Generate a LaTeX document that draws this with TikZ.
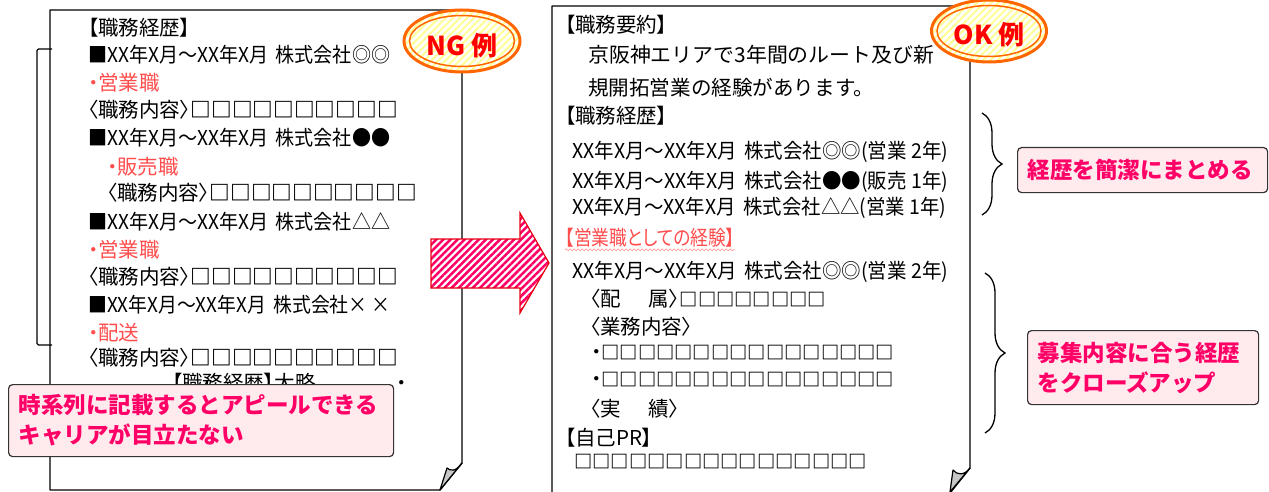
\documentclass[tikz,border=0pt]{standalone}
\usepackage{fontspec}
\setmainfont{Noto Sans CJK JP}
\newfontfamily\jpp{Noto Sans CJK JP}[RawFeature=+palt]
\usetikzlibrary{patterns.meta,decorations.pathreplacing,decorations.pathmorphing}
\definecolor{redtext}{RGB}{255,77,77}
\definecolor{pinktext}{RGB}{255,0,102}
\definecolor{callfill}{RGB}{255,234,238}
\definecolor{ringorange}{RGB}{255,102,0}
\definecolor{paleyellow}{RGB}{255,255,150}
\definecolor{arrowpink}{RGB}{255,0,102}
\definecolor{arrowred}{RGB}{230,0,18}
\newcommand\bxl[1]{{\fontsize{20.7}{22}\selectfont\bfseries #1}}
\newcommand\bxr[1]{{\fontsize{18.3}{20}\selectfont\bfseries #1}}
\newcommand\fitw[2]{\resizebox{#1}{\height}{#2}}
\tikzset{
  tx/.style={anchor=west, inner sep=0pt, font=\fontsize{20.5}{24}\selectfont},
  rt/.style={tx, text=redtext},
  callout/.style={draw=black!80, line width=1.2pt, fill=callfill, rounded corners=4pt,
     anchor=north west, inner xsep=10pt, inner ysep=0pt, align=left,
     font=\fontsize{22.5}{30}\selectfont\bfseries, text=pinktext},
  doc/.style={draw=black, line width=1.4pt, fill=white, line join=round},
  fold/.style={draw=black, line width=1.2pt, fill=black!22, line join=round},
  ringfill/.style={pattern={Lines[angle=45,distance=5pt,line width=2pt]}, pattern color=paleyellow},
  ringout/.style={draw=ringorange, line width=3pt},
  ringin/.style={draw=ringorange, line width=1.5pt},
  ringtext/.style={font=\fontsize{26}{26}\selectfont\bfseries, text=red, inner sep=0pt},
  bigarrow/.style={draw=arrowred, line width=1.2pt, line join=miter,
     pattern={Lines[angle=45,distance=5pt,line width=2.5pt]}, pattern color=arrowpink},
  bracesty/.style={draw=black, line width=1.3pt, decorate, decoration={brace, amplitude=20pt}},
}
\begin{document}
\begin{tikzpicture}[x=1pt, y=-1pt]
\useasboundingbox (0,0) rectangle (1269,492);
\fill[white] (0,0) rectangle (1269,492);

% ---------------- left document ----------------
\draw[doc] (50,10) -- (462,10) -- (462,463) -- (440,490) -- (50,490) -- cycle;
\draw[fold] (462,463) .. controls (456,472) and (450,471) .. (447,468) -- (440,490) -- cycle;
\draw[line width=1.3pt, rounded corners=1.5pt] (52,49) -- (37,49) -- (37,345) -- (52,345);

\node[tx] (l1) at (88,28) {\jpp 【職務経歴】};
\node[tx] (l2) at (88,55) {\fitw{302pt}{■XX年X月〜XX年X月\hspace{8pt}株式会社◎◎}};
\node[rt] (l3) at (88,83) {\jpp ・営業職};
\node[tx] (l4) at (88,110) {\jpp 〈職務内容〉\bxl{□□□□□□□□□□}};
\node[tx] (l5) at (88,138) {\fitw{302pt}{■XX年X月〜XX年X月\hspace{8pt}株式会社●●}};
\node[rt] (l6) at (107,167) {\jpp ・販売職};
\node[tx] (l7) at (107,193) {\jpp 〈職務内容〉\bxl{□□□□□□□□□□}};
\node[tx] (l8) at (88,222) {\fitw{302pt}{■XX年X月〜XX年X月\hspace{8pt}株式会社△△}};
\node[rt] (l9) at (88,250) {\jpp ・営業職};
\node[tx] (l10) at (88,277) {\jpp 〈職務内容〉\bxl{□□□□□□□□□□}};
\node[tx] (l11) at (88,305) {\fitw{302pt}{■XX年X月〜XX年X月\hspace{8pt}株式会社×\hspace{4pt}×}};
\node[rt] (l12) at (88,333) {\jpp ・配送};
\node[tx] (l13) at (88,358) {\jpp 〈職務内容〉\bxl{□□□□□□□□□□}};
\node[tx] (l14) at (172,383) {\jpp 【職務経歴】大略};
\node[tx] (l15) at (396,386) {\jpp ・};

\node[callout, minimum width=385pt, minimum height=72pt, text width=365pt] (c1) at (8,384)
  {時系列に記載するとアピールできる\\キャリアが目立たない};

% NG ring
\fill[white] (462,41) ellipse [x radius=58, y radius=31];
\fill[ringfill] (462,41) ellipse [x radius=58, y radius=31];
\draw[ringout] (462,41) ellipse [x radius=58, y radius=31];
\draw[ringin] (462,41) ellipse [x radius=52.5, y radius=25.5];
\node[ringtext] (ng) at (462,46) {NG 例};

% ---------------- arrow ----------------
\fill[white] (431,239) -- (520,239) -- (520,213) -- (549,263) -- (520,313) -- (520,288) -- (431,288) -- cycle;
\draw[bigarrow] (431,239) -- (520,239) -- (520,213) -- (549,263) -- (520,313) -- (520,288) -- (431,288) -- cycle;

% ---------------- right document ----------------
\draw[doc] (552,6) -- (970,6) -- (970,468) -- (950,493) -- (552,493) -- cycle;
\draw[fold] (970,468) .. controls (964,476) and (957,475) .. (953,470) -- (950,492) -- cycle;

\node[tx] (r1) at (565,25) {\jpp 【職務要約】};
\node[tx] (r2) at (588,55) {\fitw{346pt}{京阪神エリアで3年間のルート及び新}};
\node[tx] (r3) at (588,88) {\fitw{286pt}{規開拓営業の経験があります。}};
\node[tx] (r4) at (565,116) {\jpp 【職務経歴】};
\node[tx] (r5) at (572,152) {\fitw{376pt}{XX年X月〜XX年X月\hspace{8pt}株式会社◎◎(営業 2年)}};
\node[tx] (r6) at (572,182) {\fitw{376pt}{XX年X月〜XX年X月\hspace{8pt}株式会社●●(販売 1年)}};
\node[tx] (r7) at (572,208) {\fitw{374pt}{XX年X月〜XX年X月\hspace{8pt}株式会社△△(営業 1年)}};
\node[rt] (r8) at (565,238) {\fitw{170pt}{\jpp 【営業職としての経験】}};
\draw[redtext!60, line width=0.7pt, decorate, decoration={snake, amplitude=1pt, segment length=4pt}]
  (r8.south west) ++(0,2) -- ++(170,0);
\node[tx] (r9) at (572,272) {\fitw{376pt}{XX年X月〜XX年X月\hspace{8pt}株式会社◎◎(営業 2年)}};
\node[tx] (r10) at (590,299) {\jpp 〈配\hspace{28pt}属〉\bxr{□□□□□□□□}};
\node[tx] (r11) at (590,327) {\jpp 〈業務内容〉};
\node[tx] (r12) at (591,353) {\jpp ・\bxr{□□□□□□□□□□□□□□□□}};
\node[tx] (r13) at (591,380) {\jpp ・\bxr{□□□□□□□□□□□□□□□□}};
\node[tx] (r14) at (590,409) {\jpp 〈実\hspace{28pt}績〉};
\node[tx] (r15) at (565,438) {\jpp 【自己PR】};
\begin{scope}
\clip (552,440) rectangle (970,468);
\node[tx] (r16) at (574,462) {\bxr{□□□□□□□□□□□□□□□□}};
\end{scope}

% OK ring
\fill[white] (989,31) ellipse [x radius=57.5, y radius=31];
\fill[ringfill] (989,31) ellipse [x radius=57.5, y radius=31];
\draw[ringout] (989,31) ellipse [x radius=57.5, y radius=31];
\draw[ringin] (989,31) ellipse [x radius=52, y radius=25.5];
\node[ringtext] (ok) at (989,35) {OK 例};

% ---------------- braces and callouts ----------------
\coordinate (b1t) at (982,113);
\coordinate (b1b) at (982,215);
\draw[bracesty] (b1t) -- (b1b);
\coordinate (b2t) at (985,273);
\coordinate (b2b) at (985,433);
\draw[bracesty] (b2t) -- (b2b);

\node[callout, minimum width=250pt, minimum height=45pt, text width=230pt] (c2) at (1017,147)
  {経歴を簡潔にまとめる};
\node[callout, minimum width=231pt, minimum height=74pt, text width=211pt] (c3) at (1027,330)
  {募集内容に合う経歴\\をクローズアップ};
\end{tikzpicture}
\end{document}
